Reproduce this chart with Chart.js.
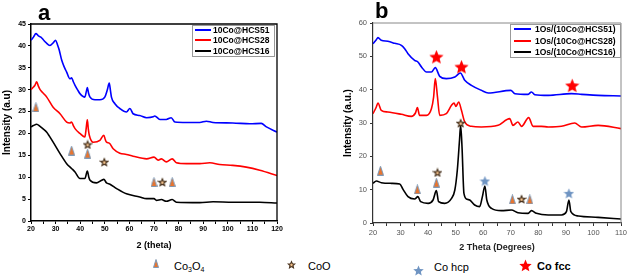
<!DOCTYPE html>
<html>
<head>
<meta charset="utf-8">
<script src="https://cdn.jsdelivr.net/npm/chart.js@4.4.0/dist/chart.umd.min.js"></script>
<style>
  body { margin: 0; width: 629px; height: 276px; background: #fff; position: relative; overflow: hidden; font-family: "Liberation Sans", Arial, sans-serif; }
  #ca { position: absolute; left: 0; top: 0; }
  #cb { position: absolute; left: 315px; top: 0; }
  .tag { position: absolute; font-weight: bold; font-size: 22px; line-height: 1; }
  .key { position: absolute; font-size: 11px; line-height: 12px; white-space: nowrap; }
  .key sub { font-size: 7px; vertical-align: -2px; line-height: 0; }
  .icon { position: absolute; }
</style>
</head>
<body>
<canvas id="ca" width="300" height="255"></canvas>
<canvas id="cb" width="314" height="255"></canvas>
<div class="tag" style="left:38px;top:2px">a</div>
<div class="tag" style="left:375px;top:0px">b</div>
<span class="key" style="left:174px;top:260px">Co<sub>3</sub>O<sub>4</sub></span>
<span class="key" style="left:308px;top:260px">CoO</span>
<span class="key" style="left:434px;top:261px">Co hcp</span>
<span class="key" style="left:537px;top:260px;font-weight:bold">Co fcc</span>
<script>
// panel a: 10Co@HCS series, [2theta, intensity]
const aHCS51 = [[20,41.3],[21,42],[22,42.8],[23,42.3],[24,42],[25,41.4],[26,40.8],[27.7,40.1],[29,40.7],[30,41.3],[30.8,40.2],[31.5,39],[32.5,36.7],[33.5,35.2],[34.5,34],[35.8,32.5],[36.5,32.7],[37.2,31.8],[37.9,31],[39,29.9],[39.9,29.1],[41.9,28.3],[42.5,29.6],[42.9,30.5],[43.4,29.2],[44,28.3],[46,27.7],[48,27.7],[50,28.3],[51,29.9],[51.8,31.5],[52.3,29.8],[52.7,28.3],[54.1,26.8],[56.1,25.7],[58.8,24.9],[60.2,25.7],[61.5,24.5],[64.2,24.1],[67,23.6],[69.7,23.8],[70.3,24],[72.4,23.2],[75,23.2],[77,23.6],[78.5,22.6],[83.2,22.5],[88.6,22.5],[91.3,22.8],[94,22.5],[102,22.4],[109,22.2],[113.6,22.3],[115.7,21.5],[120,20.3]];
const aHCS28 = [[20,30],[21,30.6],[21.6,31],[22.3,31.8],[23,30.8],[23.7,30],[25,29.2],[26.4,28.3],[29,26],[31.8,24.5],[34.5,22.6],[35.8,22.4],[36.5,22.6],[37.2,21.8],[37.9,21.1],[39.9,20],[41.9,19.2],[42.4,21],[42.9,23.1],[43.3,21],[43.7,19.6],[45.3,18],[48,18.4],[49.6,19.6],[50.2,18.6],[50.7,18],[51.8,17.8],[53.4,16.5],[56.1,15.5],[58.8,15.2],[61.5,14.8],[67,14.2],[70,14.6],[71.7,13.9],[73,14.2],[75,13.5],[77.4,14.2],[79.1,13.3],[83.2,13.1],[88.6,13.1],[92.7,13.3],[96.7,12.9],[102,12.7],[107.5,12.3],[113,11.6],[120,10.4]];
const aHCS16 = [[20,21.5],[21,21.8],[22.3,22.1],[23.7,21.6],[25,21],[26.4,20.3],[29,18],[31.8,15.4],[34.5,13.1],[36.5,12],[37.9,11.2],[39.9,9.7],[41.9,9.7],[42.9,11.4],[43.5,10],[44,9.3],[46.6,8.7],[48.7,9.3],[49.6,9.5],[50.7,8.7],[52.1,8.4],[54.8,7.4],[58.8,6.2],[64.2,5.5],[67,5.1],[70,5.1],[71,4.7],[73,4.9],[75,4.5],[77.4,4.9],[79.1,4.3],[88.6,4.2],[94,4.4],[102,4.3],[113,4.3],[120,4.1]];
const aCo3O4 = [[22,26],[36.5,16.1],[43,15.4],[70,8.9],[77.4,8.9]];
const aCoO = [[43,17.5],[49.8,13.5],[73.4,8.9]];

// panel b: 1Os/(10Co@HCS) series
const bHCS51 = [[20,53.8],[21.2,55],[21.8,55.6],[23,54.8],[25.4,54.5],[27.9,53.9],[30.3,53.3],[31.5,52.3],[32.7,50.8],[35.1,48.8],[36.3,48.3],[37.6,46.8],[39.4,45.3],[41.2,45.3],[42.6,46.6],[44.2,44],[46.6,43.3],[49.7,43.8],[51.7,45],[53.3,42.8],[55.7,41.3],[59.3,39.8],[61.8,39],[70,39.8],[71.5,38.8],[76.3,38.6],[77.5,39.3],[78.7,38.5],[83.6,38.3],[92,38.8],[95.7,38.6],[101.7,38.3],[110,38.1]];
const bHCS28 = [[20,32.8],[21.2,34.8],[21.8,36],[23,33.8],[25.4,33.3],[30.3,32.6],[33.9,32],[35.4,33],[36.1,34.6],[36.9,32.3],[39.4,32.3],[41.2,34.3],[42,37.8],[42.6,43.3],[43.4,37.8],[44.2,32.3],[46.6,32.8],[48.5,35.3],[49.4,36],[50.1,35],[51.1,36.3],[52.1,33.8],[53.3,30.3],[55.7,29],[59.3,28.8],[65.4,29.3],[69.6,31.3],[70.8,29.3],[72.6,30.3],[73.9,29],[76.5,31.6],[78.1,29],[81.1,29],[83.6,28.8],[88.4,29],[93.2,30],[95.7,28.8],[101.7,29.3],[110,28.3]];
const bHCS16 = [[20,11.9],[21.2,12.6],[23,12.1],[26.7,11.9],[29.7,11.7],[30.9,10.1],[32.7,7.9],[35.1,7.2],[36.3,7.9],[37.3,6.4],[40,5.9],[41.8,6.9],[43,9.7],[43.8,6.4],[46,5.9],[48.5,7.4],[49.7,9.9],[50.6,15.9],[51.4,24.9],[51.8,29.3],[52.3,22.9],[53,8.9],[54.2,7.1],[55.1,6.9],[56.9,5.4],[58.7,4.9],[59.7,7.9],[60.6,11.1],[61.3,6.9],[63,4.4],[66.6,3.7],[70.2,3.9],[72.6,3.1],[76.3,2.9],[77.5,3.7],[79.3,2.9],[83.6,2.4],[88.4,2.4],[90.2,3.4],[91.1,6.9],[91.8,3.4],[94.5,2.1],[101.7,1.7],[110,1.2]];
const bCo3O4 = [[22.7,15.7],[36.1,10.1],[43,12.1],[70.6,7.1],[76.9,7.1]];
const bCoO = [[51.8,30],[43.4,15.2],[73.9,7.2]];
const bCoHcp = [[60.6,12.6],[91.1,8.9]];
const bCoFcc = [[43,49.8],[52.1,46.8],[92.3,41.2]];

const labelsA = ["10Co@HCS51", "10Co@HCS28", "10Co@HCS16"];
const labelsB = ["1Os/(10Co@HCS51)", "1Os/(10Co@HCS28)", "1Os/(10Co@HCS16)"];
const lineColors = ["#0000ff", "#ff0000", "#000000"];

function star(size, fill, stroke, lw) {
  const c = document.createElement("canvas");
  c.width = c.height = size;
  const g = c.getContext("2d");
  const r = size / 2 - (lw || 0), cx = size / 2, cy = size / 2 + 0.5;
  g.beginPath();
  for (let i = 0; i < 10; i++) {
    const rr = i % 2 ? r * 0.45 : r;
    const a = -Math.PI / 2 + i * Math.PI / 5;
    g.lineTo(cx + rr * Math.cos(a), cy + rr * Math.sin(a));
  }
  g.closePath();
  g.fillStyle = fill; g.fill();
  if (lw) { g.strokeStyle = stroke; g.lineWidth = lw; g.stroke(); }
  return c;
}
function tri(w, h) {
  const c = document.createElement("canvas");
  c.width = w; c.height = h;
  const g = c.getContext("2d");
  g.beginPath();
  g.moveTo(w / 2, 0.5); g.lineTo(w - 0.5, h - 0.5); g.lineTo(0.5, h - 0.5); g.closePath();
  g.fillStyle = "#e8742e"; g.fill();
  g.strokeStyle = "#7d9ab8"; g.lineWidth = 1; g.stroke();
  return c;
}
const icoTri = tri(7, 10);
const icoCoO = star(10, "#f2c08a", "#4a3420", 1.2);
const icoHcp = star(11, "#6f94c2");
const icoFcc = star(15, "#ff0000");

function pts(arr) { return arr.map(p => ({ x: p[0], y: p[1] })); }
function lineSet(label, arr, color, ord) {
  return { label: label, data: pts(arr), borderColor: color, borderWidth: 1.6, pointRadius: 0,
    cubicInterpolationMode: "monotone", order: ord, inLegend: true };
}
function markSet(arr, img) {
  return { data: pts(arr), showLine: false, pointStyle: img, pointRadius: 5, order: 0 };
}

const frame = {
  id: "frame",
  afterDraw(chart, args, o) {
    const { ctx, chartArea: ca } = chart;
    ctx.save();
    ctx.strokeStyle = o.color; ctx.lineWidth = o.width;
    ctx.beginPath();
    ctx.moveTo(ca.left, ca.top); ctx.lineTo(ca.right, ca.top); ctx.lineTo(ca.right, ca.bottom);
    ctx.stroke();
    ctx.restore();
  }
};
const boxLegend = {
  id: "boxLegend",
  afterDraw(chart, args, o) {
    const ctx = chart.ctx;
    ctx.save();
    ctx.fillStyle = "#fff";
    ctx.fillRect(o.x, o.y, o.w, o.h);
    ctx.strokeStyle = "#999"; ctx.lineWidth = 1;
    ctx.strokeRect(o.x + 0.5, o.y + 0.5, o.w, o.h);
    ctx.font = "bold 8.5px 'Liberation Sans', Arial, sans-serif";
    ctx.textBaseline = "middle";
    chart.data.datasets.filter(d => d.inLegend).forEach((d, i) => {
      const y = o.rows[i];
      ctx.strokeStyle = d.borderColor; ctx.lineWidth = 2;
      ctx.beginPath(); ctx.moveTo(o.lx0, y); ctx.lineTo(o.lx1, y); ctx.stroke();
      ctx.fillStyle = "#000";
      ctx.fillText(d.label, o.tx, y + 0.5);
    });
    ctx.restore();
  }
};

new Chart(document.getElementById("ca"), {
  type: "line",
  data: {
    datasets: [
      markSet(aCo3O4, icoTri), markSet(aCoO, icoCoO),
      lineSet(labelsA[0], aHCS51, lineColors[0], 1),
      lineSet(labelsA[1], aHCS28, lineColors[1], 2),
      lineSet(labelsA[2], aHCS16, lineColors[2], 3)
    ]
  },
  options: {
    responsive: false, animation: false,
    layout: { padding: { left: 0, top: 24, right: 23, bottom: 0 } },
    plugins: {
      legend: { display: false }, tooltip: { enabled: false },
      frame: { color: "#000", width: 1.3 },
      boxLegend: { x: 192, y: 25, w: 82, h: 31, rows: [30, 40, 51], lx0: 195, lx1: 211, tx: 213 }
    },
    scales: {
      x: {
        type: "linear", min: 20, max: 120,
        ticks: { stepSize: 5, autoSkip: false, maxRotation: 0, padding: 1, color: "#000",
          font: { size: 7, weight: "bold" }, callback: v => v % 10 === 0 ? v : "" },
        grid: { drawOnChartArea: false, color: "#000", tickLength: 3 },
        border: { color: "#000", width: 1.5 },
        title: { display: true, text: "2 (theta)", color: "#000", font: { size: 9, weight: "bold" }, padding: { top: 0, bottom: 4 } },
        afterFit: s => { s.height = 34; }
      },
      y: {
        min: 0, max: 45,
        ticks: { stepSize: 5, padding: 2, color: "#000", font: { size: 7, weight: "bold" } },
        grid: { drawOnChartArea: false, color: "#000", tickLength: 3 },
        border: { color: "#000", width: 1.5 },
        title: { display: true, text: "Intensity (a.u)", color: "#000", font: { size: 10, weight: "bold" }, padding: 1 },
        afterFit: s => { s.width = 31; }
      }
    }
  },
  plugins: [frame, boxLegend]
});

new Chart(document.getElementById("cb"), {
  type: "line",
  data: {
    datasets: [
      markSet(bCo3O4, icoTri), markSet(bCoO, icoCoO), markSet(bCoHcp, icoHcp),
      Object.assign(markSet(bCoFcc, icoFcc), { pointRadius: 7 }),
      lineSet(labelsB[0], bHCS51, lineColors[0], 1),
      lineSet(labelsB[1], bHCS28, lineColors[1], 2),
      lineSet(labelsB[2], bHCS16, lineColors[2], 3)
    ]
  },
  options: {
    responsive: false, animation: false,
    layout: { padding: { left: 26, top: 23, right: 7, bottom: 0 } },
    plugins: {
      legend: { display: false }, tooltip: { enabled: false },
      frame: { color: "#888", width: 1 },
      boxLegend: { x: 195, y: 24, w: 110, h: 33, rows: [29, 41, 52], lx0: 199, lx1: 216, tx: 220 }
    },
    scales: {
      x: {
        type: "linear", min: 20, max: 110,
        ticks: { stepSize: 5, autoSkip: false, maxRotation: 0, padding: 2, color: "#555",
          font: { size: 7.5 }, callback: v => v % 10 === 0 ? v : "" },
        grid: { drawOnChartArea: false, color: "#333", tickLength: 3 },
        border: { color: "#333", width: 1.2 },
        title: { display: true, text: "2 Theta (Degrees)", color: "#222", font: { size: 9, weight: "bold" }, padding: { top: 0, bottom: 2 } },
        afterFit: s => { s.height = 32; }
      },
      y: {
        min: 0, max: 60,
        ticks: { stepSize: 10, padding: 3, color: "#555", font: { size: 7.5 } },
        grid: { drawOnChartArea: false, color: "#333", tickLength: 3 },
        border: { color: "#333", width: 1.2 },
        title: { display: true, text: "Intensity (a.u.)", color: "#000", font: { size: 10, weight: "bold" }, padding: 1 },
        afterFit: s => { s.width = 32; }
      }
    }
  },
  plugins: [frame, boxLegend]
});

// icons of the key row under the panels
function placeIcon(img, cx, cy) {
  const c = img.cloneNode();
  c.getContext("2d").drawImage(img, 0, 0);
  c.className = "icon";
  c.style.left = (cx - img.width / 2) + "px";
  c.style.top = (cy - img.height / 2) + "px";
  document.body.appendChild(c);
}
placeIcon(tri(6, 9), 156, 263);
placeIcon(star(9, "#f2c08a", "#4a3420", 1.1), 291, 264);
placeIcon(icoHcp, 418, 270);
placeIcon(star(13, "#ff0000"), 525, 265);
</script>
</body>
</html>
